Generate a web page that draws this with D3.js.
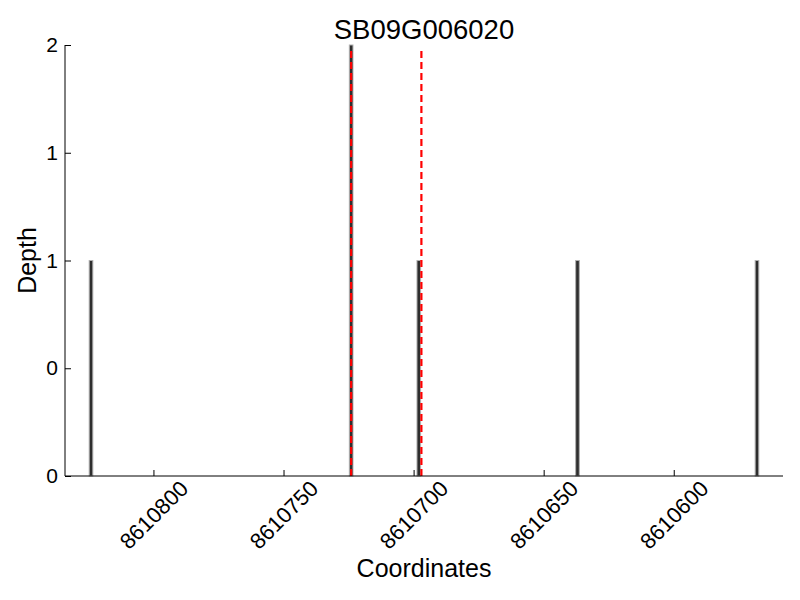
<!DOCTYPE html>
<html>
<head>
<meta charset="utf-8">
<script src="https://cdn.jsdelivr.net/npm/d3@7"></script>
<style>
  body { margin: 0; background: #fff; }
  text { font-family: "Liberation Sans", Arial, sans-serif; fill: #000; }
</style>
</head>
<body>
<div class="chart-container"></div>
<script>
//! DATA
const title = 'SB09G006020'
const positions = [8610824, 8610724, 8610698, 8610637, 8610568]
const depths = [1, 2, 1, 1, 1]
const markers = [8610724, 8610697]
const xTicks = [8610800, 8610750, 8610700, 8610650, 8610600]
const yTickValues = [0, 0.5, 1, 1.5, 2]
const yTickLabels = ['0', '0', '1', '1', '2']

//! CONSTS
const width = 800
const height = 600
const margin = { left: 65, right: 17, top: 45, bottom: 124 }

const svg = d3.select('.chart-container')
  .append('svg')
  .attr('width', width)
  .attr('height', height)

//! SCALES
const xScale = d3.scaleLinear()
  .domain([8610834, 8610558])
  .range([margin.left, width - margin.right])

const yScale = d3.scaleLinear()
  .domain([0, 2])
  .range([height - margin.bottom, margin.top])

// bar width in coordinate units
const barW = Math.abs(xScale(1.4) - xScale(0))

//! BARS
svg.append('g')
  .selectAll('rect')
  .data(positions)
  .enter()
  .append('rect')
  .attr('x', d => xScale(d) - barW / 2)
  .attr('y', (d, i) => yScale(depths[i]))
  .attr('width', barW)
  .attr('height', (d, i) => yScale(0) - yScale(depths[i]))
  .attr('fill', '#2e2e2e')
  .attr('stroke', '#b0b0b0')
  .attr('stroke-width', 1)

//! MARKERS
svg.append('g')
  .selectAll('line')
  .data(markers)
  .enter()
  .append('line')
  .attr('x1', d => xScale(d))
  .attr('x2', d => xScale(d))
  .attr('y1', yScale(2) + 6)
  .attr('y2', yScale(0))
  .attr('stroke', '#ff0000')
  .attr('stroke-width', 2.2)
  .attr('stroke-dasharray', '7,4')

//! AXES
const xAxis = d3.axisBottom(xScale)
  .tickValues(xTicks)
  .tickSize(-6)
  .tickFormat('')

const yAxis = d3.axisLeft(yScale)
  .tickValues(yTickValues)
  .tickSize(-6)
  .tickFormat((d, i) => yTickLabels[i])

const gx = svg.append('g')
  .attr('transform', `translate(0,${height - margin.bottom})`)
  .call(xAxis)
gx.select('.domain').attr('d', `M${margin.left},0H${width - margin.right}`)

gx.selectAll('.tick')
  .append('text')
  .attr('transform', 'translate(0,39) rotate(-45)')
  .attr('text-anchor', 'middle')
  .attr('dominant-baseline', 'central')
  .style('font-size', '22px')
  .text(d => d)

const gy = svg.append('g')
  .attr('transform', `translate(${margin.left},0)`)
  .call(yAxis)
gy.select('.domain').attr('d', `M0,${height - margin.bottom}V${margin.top}`)
gy.selectAll('.tick text')
  .attr('x', -7)
  .attr('fill', '#000')
  .style('font-size', '21px')
  .style('font-family', '"Liberation Sans", Arial, sans-serif')

svg.selectAll('.domain, .tick line')
  .attr('stroke', '#000')
  .attr('stroke-width', 1)

//! LABELS
const cx = (margin.left + width - margin.right) / 2
svg.append('text')
  .attr('x', cx)
  .attr('y', 29)
  .attr('text-anchor', 'middle')
  .attr('dominant-baseline', 'central')
  .style('font-size', '27.5px')
  .text(title)

svg.append('text')
  .attr('x', cx)
  .attr('y', 568)
  .attr('text-anchor', 'middle')
  .attr('dominant-baseline', 'central')
  .style('font-size', '25px')
  .text('Coordinates')

svg.append('text')
  .attr('transform', `translate(27,${(margin.top + height - margin.bottom) / 2}) rotate(-90)`)
  .attr('text-anchor', 'middle')
  .attr('dominant-baseline', 'central')
  .style('font-size', '25px')
  .text('Depth')
</script>
</body>
</html>
